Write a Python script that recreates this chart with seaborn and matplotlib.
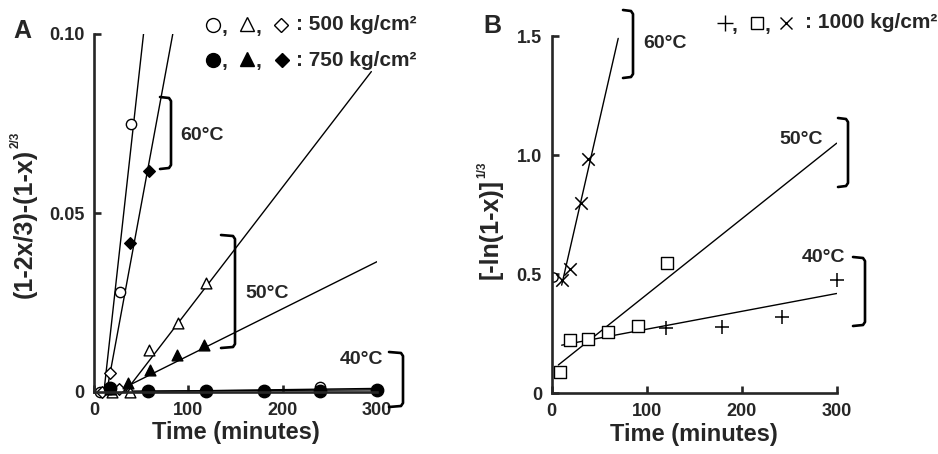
import numpy as np
import pandas as pd
import seaborn as sns
import matplotlib.pyplot as plt
from matplotlib.lines import Line2D

# ---- panel A data: (1-2x/3)-(1-x)^(2/3) vs time ----
# open symbols = 500 kg/cm2, filled = 750 kg/cm2
a500_circ_t = [6, 28, 39, 240]
a500_circ_y = [0.0, 0.028, 0.075, 0.0015]
a500_tri_t = [19, 38, 58, 89, 119]
a500_tri_y = [0.0, 0.0, 0.0117, 0.0192, 0.0304]
a500_dia_t = [8, 17, 27]
a500_dia_y = [0.0, 0.0052, 0.0008]
a750_circ_t = [17, 57, 119, 180, 240, 300]
a750_circ_y = [0.001, 0.0003, 0.0003, 0.0004, 0.0004, 0.0005]
a750_tri_t = [17, 36, 59, 88, 117]
a750_tri_y = [0.0008, 0.0024, 0.0062, 0.0102, 0.0132]
a750_dia_t = [38, 58]
a750_dia_y = [0.0417, 0.0618]

# fitted lines in A (end points)
fitA_t = [[10.5, 52.5], [13.4, 83.5], [33, 294], [29, 300], [10, 300], [10, 300]]
fitA_y = [[0, 0.10], [0, 0.10], [0, 0.0895], [0.0008, 0.0364], [0.0002, 0.0006], [0.0, 0.001]]

# ---- panel B data: [-ln(1-x)]^(1/3) vs time, 1000 kg/cm2 ----
b60_t = [10.5, 19.5, 31, 38.5]
b60_y = [0.475, 0.52, 0.80, 0.985]
b50_t = [8.7, 19.3, 38.5, 59.6, 91, 121]
b50_y = [0.091, 0.223, 0.226, 0.258, 0.282, 0.545]
b40_t = [120, 179, 242, 300]
b40_y = [0.275, 0.279, 0.321, 0.475]
bx_t = [1]
bx_y = [0.49]

fitB_t = [[10.5, 70], [7, 300], [10.5, 300]]
fitB_y = [[0.454, 1.49], [0.119, 1.05], [0.202, 0.419]]

sns.set_style('ticks')
plt.rcParams['font.family'] = ['Liberation Sans', 'DejaVu Sans']
plt.rcParams['font.weight'] = 'bold'

W, H = 938, 454
fig = plt.figure(figsize=(W / 100, H / 100), dpi=100)


def frac(x, y):
    return x / W, 1 - y / H


def add_axes(x0, y0, x1, y1):
    l, t = frac(x0, y0)
    r, b = frac(x1, y1)
    return fig.add_axes([l, b, r - l, t - b])


def style_axes(ax):
    sns.despine(ax=ax)
    for s in ['left', 'bottom']:
        ax.spines[s].set_linewidth(1.9)
        ax.spines[s].set_zorder(5)
    ax.tick_params(direction='in', length=5, width=1.9, labelsize=13, pad=7)
    for lab in ax.get_xticklabels() + ax.get_yticklabels():
        lab.set_fontweight('bold')


def fit_lines(ax, ts, ys):
    rows = []
    for i, (tt, yy) in enumerate(zip(ts, ys)):
        for a, b in zip(tt, yy):
            rows.append({'fit': i, 't': a, 'y': b})
    df = pd.DataFrame(rows)
    sns.lineplot(data=df, x='t', y='y', units='fit', estimator=None, color='black',
                 linewidth=1.0, ax=ax, legend=False, zorder=2)


def points(ax, t, y, marker, filled, s=60, clip=False, z=4):
    if marker in ('x', '+'):
        sns.scatterplot(x=t, y=y, marker=marker, s=s, color='black', linewidth=1.1,
                        ax=ax, clip_on=clip, zorder=z)
    else:
        sns.scatterplot(x=t, y=y, marker=marker, s=s,
                        color='black' if filled else 'white', edgecolor='black',
                        linewidth=1.0, ax=ax, clip_on=clip, zorder=z)


def bracket(x, y0, y1, w):
    xs = [x - w, x - 2, x, x, x - 2, x - w]
    ys = [y0, y0 + 1, y0 + 4, y1 - 4, y1 - 1, y1]
    fx = [v / W for v in xs]
    fy = [1 - v / H for v in ys]
    fig.add_artist(Line2D(fx, fy, color='black', linewidth=1.9,
                          solid_joinstyle='round', solid_capstyle='round'))


def label(x, y, s, size=14, ha='left', rot=0, va='center'):
    fx, fy = frac(x, y)
    return fig.text(fx, fy, s, fontsize=size, fontweight='bold', ha=ha, va=va,
                    rotation=rot, family=['Liberation Sans', 'DejaVu Sans'])


def key_marker(x, y, marker, filled, ms=9):
    fx, fy = frac(x, y)
    fig.add_artist(Line2D([fx], [fy], marker=marker, markersize=ms, linestyle='none',
                          markerfacecolor='black' if filled else 'white',
                          markeredgecolor='black', markeredgewidth=1.0))


def ylabel_sup(x, ybottom, main, sup, size=18):
    # rotated label with a small superscript placed after its top end
    t = label(x, ybottom, main, size=size, rot=90, va='bottom', ha='center')
    fig.canvas.draw()
    bb = t.get_window_extent()
    top_px = H - bb.y1
    left_px = bb.x0
    label(left_px + 3, top_px - 1, sup, size=8.5, rot=90, va='bottom', ha='center')


# ---------------- panel A ----------------
axA = add_axes(94, 34, 377, 392)
fit_lines(axA, fitA_t, fitA_y)
points(axA, a500_circ_t, a500_circ_y, 'o', False, 55)
points(axA, a500_tri_t, a500_tri_y, '^', False, 60)
points(axA, a500_dia_t, a500_dia_y, 'D', False, 35)
points(axA, a750_circ_t, a750_circ_y, 'o', True, 80)
points(axA, a750_tri_t, a750_tri_y, '^', True, 60)
points(axA, a750_dia_t, a750_dia_y, 'D', True, 35)
axA.set_xlim(0, 300)
axA.set_ylim(0, 0.10)
axA.set_xticks([0, 100, 200, 300])
axA.set_yticks([0, 0.05, 0.10])
axA.set_yticklabels(['0', '0.05', '0.10'])
axA.set_xlabel('Time (minutes)', fontsize=17, fontweight='bold', labelpad=2)
axA.set_ylabel('')
style_axes(axA)

# ---------------- panel B ----------------
axB = add_axes(551.7, 36, 836.7, 393.3)
fit_lines(axB, fitB_t, fitB_y)
points(axB, b60_t, b60_y, 'x', True, 80)
points(axB, b50_t, b50_y, 's', False, 85)
points(axB, b40_t, b40_y, '+', True, 110)
points(axB, bx_t, bx_y, 'o', False, 45, clip=True, z=1)
axB.set_xlim(0, 300)
axB.set_ylim(0, 1.5)
axB.set_xticks([0, 100, 200, 300])
axB.set_yticks([0, 0.5, 1.0, 1.5])
axB.set_yticklabels(['0', '0.5', '1.0', '1.5'])
axB.set_xlabel('Time (minutes)', fontsize=17, fontweight='bold', labelpad=2)
axB.set_ylabel('')
style_axes(axB)

# y labels with small superscripts
ylabel_sup(25, 298, '(1-2x/3)-(1-x)', '2/3', size=18)
ylabel_sup(491, 279, '[-ln(1-x)]', '1/3', size=18)

# brackets and temperature labels
bracket(171, 97, 169, 11)
bracket(235, 235, 348, 14)
bracket(403, 352, 407, 14)
bracket(633, 10, 78, 10)
bracket(848, 118, 187, 10)
bracket(865, 257, 326, 12)
label(180, 135, '60°C')
label(245, 293, '50°C')
label(383, 360, '40°C', ha='right')
label(643, 43, '60°C')
label(823, 140, '50°C', ha='right')
label(845, 258, '40°C', ha='right')

# legends: symbol keys plus text
key_marker(213, 25, 'o', False, 10)
key_marker(247, 24, '^', False, 10)
key_marker(281, 25, 'D', False, 7.5)
key_marker(213, 60, 'o', True, 10)
key_marker(247, 59, '^', True, 10)
key_marker(282, 60, 'D', True, 7.5)
label(222, 27, ',', size=15)
label(256, 27, ',', size=15)
label(222, 62, ',', size=15)
label(256, 62, ',', size=15)
label(296, 25, ': 500 kg/cm²', size=15)
label(296, 60, ': 750 kg/cm²', size=15)

key_marker(725, 23, '+', False, 11)
key_marker(757, 23, 's', False, 9)
key_marker(786, 23, 'x', False, 8)
label(732, 25, ',', size=15)
label(765, 25, ',', size=15)
label(937, 23, ': 1000 kg/cm²', size=15, ha='right')

# panel letters
label(13, 31, 'A', size=18)
label(483, 26, 'B', size=18)

fig.savefig('out.png', dpi=100)
